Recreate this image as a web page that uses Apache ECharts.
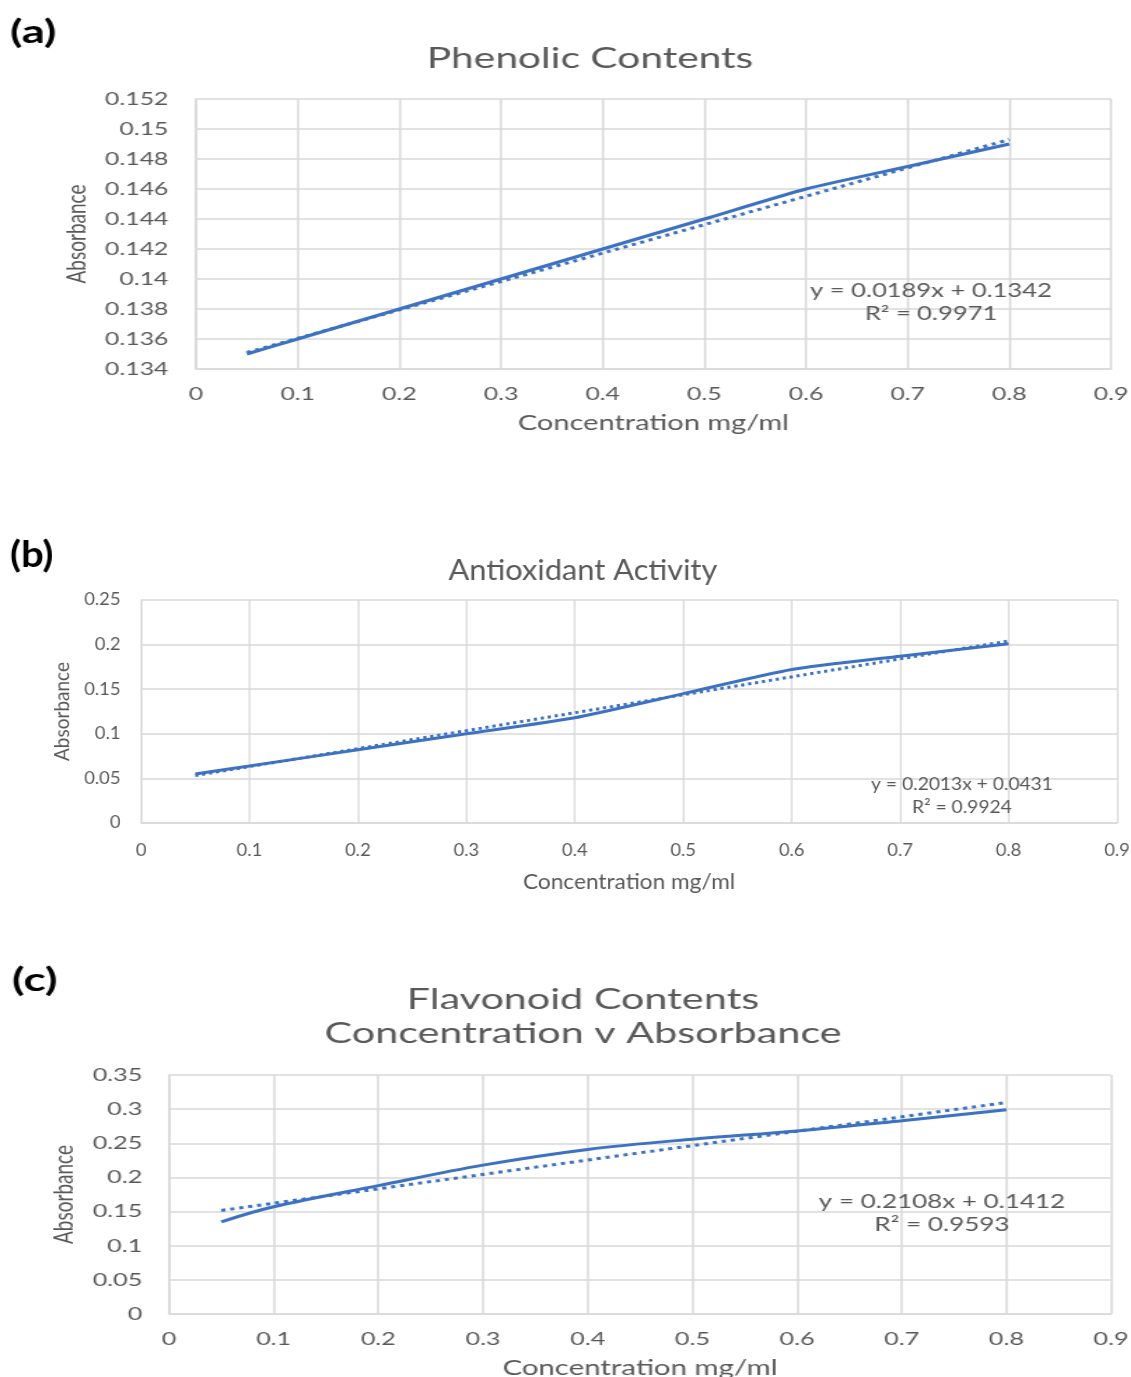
<!DOCTYPE html>
<html>
<head>
<meta charset="utf-8">
<script src="https://cdn.jsdelivr.net/npm/echarts@6/dist/echarts.min.js"></script>
<style>
html, body { margin: 0; padding: 0; background: #fff; }
#page { position: relative; width: 1131px; height: 1377px; overflow: hidden; }
.panel { position: absolute; left: 0; transform-origin: 0 0; }
</style>
</head>
<body>
<div id="page">
  <div id="chartA" class="panel"></div>
  <div id="chartB" class="panel"></div>
  <div id="chartC" class="panel"></div>
</div>
<script>
// same concentration steps in all three plots
const concentration = [0.05, 0.1, 0.2, 0.3, 0.4, 0.5, 0.6, 0.7, 0.8];
const xTicks = [0, 0.1, 0.2, 0.3, 0.4, 0.5, 0.6, 0.7, 0.8, 0.9];

// (a) phenolic
const phenolic = [0.135, 0.136, 0.138, 0.140, 0.142, 0.144, 0.146, 0.1475, 0.149];
const phenolicTrend = [[0.05, 0.1351], [0.8, 0.1493]];
const phenolicTicks = [0.134, 0.136, 0.138, 0.14, 0.142, 0.144, 0.146, 0.148, 0.15, 0.152];

// (b) antioxidant
const antioxidant = [0.055, 0.064, 0.082, 0.100, 0.118, 0.145, 0.172, 0.187, 0.201];
const antioxidantTrend = [[0.05, 0.0532], [0.8, 0.2041]];
const antioxidantTicks = [0, 0.05, 0.1, 0.15, 0.2, 0.25];

// (c) flavonoid
const flavonoid = [0.135, 0.157, 0.188, 0.218, 0.241, 0.256, 0.268, 0.283, 0.299];
const flavonoidTrend = [[0.05, 0.1517], [0.8, 0.3098]];
const flavonoidTicks = [0, 0.05, 0.1, 0.15, 0.2, 0.25, 0.3, 0.35];

const LINE = '#3d72c2';
const GRIDC = '#d9d9d9';
const TXT = '#595959';
const FONT = 'Lato, "Open Sans", sans-serif';

// panel layout, in final page pixels; stretch = horizontal CSS scale
const panels = [
  {
    el: 'chartA', top: 0, height: 470, stretch: 1.38,
    plot: [196, 99, 1111, 369],
    tag: '(a)', tagPos: [10, 32], tagSize: 33,
    title: 'Phenolic Contents', titlePos: [590, 58], titleSize: 29.5,
    eq: ['y = 0.0189x + 0.1342', 'R² = 0.9971'], eqPos: [931, 303], eqSize: 18.5,
    ticks: phenolicTicks, values: phenolic, trend: phenolicTrend, smooth: 0.2,
    tickSize: 18, nameSize: 21, labelMargin: 16, yLabelMargin: 20, xNameGap: 44, yNameGap: 76
  },
  {
    el: 'chartB', top: 470, height: 460, stretch: 1.08,
    plot: [141, 600, 1117, 823],
    tag: '(b)', tagPos: [10, 555], tagSize: 37,
    title: 'Antioxidant Activity', titlePos: [583, 571], titleSize: 28.5,
    eq: ['y = 0.2013x + 0.0431', 'R² = 0.9924'], eqPos: [962, 796], eqSize: 17.8,
    ticks: antioxidantTicks, values: antioxidant, trend: antioxidantTrend, smooth: 0.2,
    tickSize: 17, nameSize: 21, labelMargin: 19, yLabelMargin: 19, xNameGap: 49, yNameGap: 60
  },
  {
    el: 'chartC', top: 930, height: 447, stretch: 1.4,
    plot: [169, 1075, 1111, 1314],
    tag: '(c)', tagPos: [12, 980], tagSize: 33,
    title: 'Flavonoid Contents\nConcentration v Absorbance', titlePos: [583, 1016], titleSize: 29.5,
    eq: ['y = 0.2108x + 0.1412', 'R² = 0.9593'], eqPos: [942, 1213], eqSize: 18.6,
    ticks: flavonoidTicks, values: flavonoid, trend: flavonoidTrend, smooth: 0.35,
    tickSize: 18, nameSize: 21, labelMargin: 16, yLabelMargin: 19, xNameGap: 44, yNameGap: 62
  }
];

function fmt(v) {
  return String(+v.toFixed(4));
}

function buildOption(p) {
  const s = p.stretch;
  const X = v => v / s;
  const Y = v => v - p.top;
  const t = p.ticks;
  return {
    animation: false,
    grid: {
      left: X(p.plot[0]),
      top: Y(p.plot[1]),
      width: X(p.plot[2] - p.plot[0]),
      height: p.plot[3] - p.plot[1],
      containLabel: false,
      outerBoundsMode: 'none'
    },
    xAxis: {
      type: 'value',
      min: xTicks[0],
      max: xTicks[xTicks.length - 1],
      interval: +(xTicks[1] - xTicks[0]).toFixed(6),
      name: 'Concentration mg/ml',
      nameLocation: 'middle',
      nameGap: p.xNameGap,
      nameTextStyle: { color: TXT, fontSize: p.nameSize, fontFamily: FONT },
      axisLine: { show: true, lineStyle: { color: GRIDC, width: 1.5 } },
      axisTick: { show: false },
      axisLabel: { color: TXT, fontSize: p.tickSize, fontFamily: FONT, margin: p.labelMargin, formatter: fmt },
      splitLine: { show: true, lineStyle: { color: GRIDC, width: 1.5 } }
    },
    yAxis: {
      type: 'value',
      min: t[0],
      max: t[t.length - 1],
      interval: +(t[1] - t[0]).toFixed(6),
      name: 'Absorbance',
      nameLocation: 'middle',
      nameRotate: 90,
      nameGap: p.yNameGap,
      nameTextStyle: { color: TXT, fontSize: 19, fontFamily: FONT },
      axisLine: { show: true, lineStyle: { color: GRIDC, width: 1.5 } },
      axisTick: { show: false },
      axisLabel: { color: TXT, fontSize: p.tickSize, fontFamily: FONT, margin: p.yLabelMargin, formatter: fmt },
      splitLine: { show: true, lineStyle: { color: GRIDC, width: 1.5 } }
    },
    graphic: [
      {
        type: 'text', x: X(p.tagPos[0]), y: Y(p.tagPos[1]),
        style: { text: p.tag, fill: '#000', font: 'bold ' + p.tagSize + 'px ' + FONT, textVerticalAlign: 'middle' }
      },
      {
        type: 'text', x: X(p.titlePos[0]), y: Y(p.titlePos[1]),
        style: {
          text: p.title, fill: TXT, font: p.titleSize + 'px ' + FONT,
          textAlign: 'center', textVerticalAlign: 'middle', lineHeight: 34
        }
      },
      {
        type: 'text', x: X(p.eqPos[0]), y: Y(p.eqPos[1]), z: 10,
        style: {
          text: p.eq.join('\n'), fill: TXT, font: p.eqSize + 'px ' + FONT,
          textAlign: 'center', textVerticalAlign: 'middle', lineHeight: 23
        }
      }
    ],
    series: [
      {
        name: 'trend',
        type: 'line',
        data: p.trend,
        showSymbol: false,
        lineStyle: { color: LINE, width: 3, type: [3, 3.5] }
      },
      {
        name: 'absorbance',
        type: 'line',
        data: concentration.map((c, i) => [c, p.values[i]]),
        showSymbol: false,
        smooth: p.smooth,
        lineStyle: { color: LINE, width: 3 }
      }
    ]
  };
}

panels.forEach(p => {
  const div = document.getElementById(p.el);
  div.style.top = p.top + 'px';
  div.style.height = p.height + 'px';
  div.style.width = (1131 / p.stretch) + 'px';
  div.style.transform = 'scaleX(' + p.stretch + ')';
  const chart = echarts.init(div, null, { renderer: 'canvas' });
  chart.setOption(buildOption(p));
});
</script>
</body>
</html>
